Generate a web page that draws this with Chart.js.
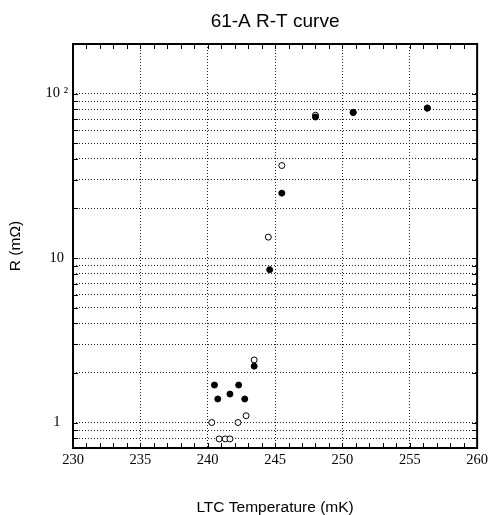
<!DOCTYPE html>
<html>
<head>
<meta charset="utf-8">
<script src="https://cdn.jsdelivr.net/npm/chart.js@4/dist/chart.umd.min.js"></script>
<style>
  html, body { margin: 0; padding: 0; background: #fff; }
  #wrap { width: 491px; height: 515px; }
</style>
</head>
<body>
<div id="wrap"><canvas id="c" width="491" height="515"></canvas></div>
<script>
// ---- data ----
const chartTitle = '61-A R-T curve';
const xTitle = 'LTC Temperature (mK)';
const yTitle = 'R (m\u03A9)';

const filledT = [240.5, 240.75, 241.65, 242.3, 242.75, 243.45, 244.6, 245.5, 248.0, 250.8, 256.3];
const filledR = [1.69, 1.39, 1.49, 1.69, 1.39, 2.2, 8.5, 24.8, 72.0, 76.6, 81.4];

const openT = [240.3, 240.85, 241.3, 241.65, 242.25, 242.85, 243.45, 244.5, 245.5, 248.0, 250.8, 256.3];
const openR = [1.0, 0.795, 0.795, 0.795, 1.0, 1.1, 2.4, 13.4, 36.5, 73.8, 76.9, 81.7];

const xMin = 230, xMax = 260, xStep = 5, xMinorStep = 1;
const yMin = 0.7, yMax = 200;
const yGridValues = [0.8, 0.9, 1, 2, 3, 4, 5, 6, 7, 8, 9, 10, 20, 30, 40, 50, 60, 70, 80, 90, 100];
const yTickLabels = { 1: '1', 10: '10', 100: '10 \u00B2' };

const toPoints = (xs, ys) => xs.map((x, i) => ({ x: x, y: ys[i] }));

const frameAndTicks = {
  id: 'frameAndTicks',
  afterDraw(chart) {
    const { ctx, chartArea: a, scales } = chart;
    const xs = scales.x, ys = scales.y;
    ctx.save();
    ctx.strokeStyle = '#000';
    ctx.lineWidth = 1;
    ctx.beginPath();
    const L = 5;
    for (let v = xMin; v <= xMax + 1e-9; v += xMinorStep) {
      const px = Math.round(xs.getPixelForValue(v)) + 0.5;
      ctx.moveTo(px, a.bottom); ctx.lineTo(px, a.bottom - L);
      ctx.moveTo(px, a.top); ctx.lineTo(px, a.top + L);
    }
    yGridValues.forEach(v => {
      const py = Math.round(ys.getPixelForValue(v)) + 0.5;
      ctx.moveTo(a.left, py); ctx.lineTo(a.left + L, py);
      ctx.moveTo(a.right, py); ctx.lineTo(a.right - L, py);
    });
    ctx.stroke();
    ctx.lineWidth = 2;
    ctx.strokeRect(a.left, a.top, a.right - a.left, a.bottom - a.top);
    ctx.restore();
  }
};

new Chart(document.getElementById('c'), {
  type: 'scatter',
  data: {
    datasets: [
      {
        label: 'filled',
        data: toPoints(filledT, filledR),
        pointStyle: 'circle',
        pointRadius: 3,
        pointBackgroundColor: '#000',
        pointBorderColor: '#000',
        pointBorderWidth: 1
      },
      {
        label: 'open',
        data: toPoints(openT, openR),
        pointStyle: 'circle',
        pointRadius: 3,
        pointBackgroundColor: '#fff',
        pointBorderColor: '#000',
        pointBorderWidth: 1
      }
    ]
  },
  options: {
    responsive: false,
    animation: false,
    events: [],
    layout: { padding: { left: 0, right: 12, top: 0, bottom: 0 } },
    plugins: {
      legend: { display: false },
      tooltip: { enabled: false },
      title: {
        display: true,
        text: chartTitle,
        fullSize: false,
        color: '#000',
        font: { family: 'Liberation Sans', size: 19, weight: 'normal', lineHeight: 1 },
        padding: { top: 12, bottom: 13 }
      }
    },
    scales: {
      x: {
        type: 'linear',
        min: xMin, max: xMax,
        afterFit(s) { s.height = 67; },
        ticks: {
          stepSize: xStep,
          color: '#000',
          padding: 3,
          maxRotation: 0,
          font: { family: 'Liberation Serif', size: 14.5, lineHeight: 1.2 }
        },
        grid: { color: '#222', lineWidth: 1, drawTicks: false },
        border: { display: false, dash: [1, 2] },
        title: {
          display: true, text: xTitle, color: '#000',
          font: { family: 'Liberation Sans', size: 15.5, lineHeight: 1 },
          padding: { top: 0, bottom: 0 }
        }
      },
      y: {
        type: 'logarithmic',
        min: yMin, max: yMax,
        afterFit(s) { s.width = 73; },
        afterBuildTicks(s) { s.ticks = yGridValues.map(v => ({ value: v })); },
        ticks: {
          autoSkip: false,
          color: '#000',
          crossAlign: 'center',
          padding: 5,
          font: { family: 'Liberation Serif', size: 14.5 },
          callback: (v) => (yTickLabels[v] !== undefined ? yTickLabels[v] : '')
        },
        grid: { color: '#222', lineWidth: 1, drawTicks: false },
        border: { display: false, dash: [1, 2] },
        title: {
          display: true, text: yTitle, color: '#000',
          font: { family: 'Liberation Sans', size: 15.5, lineHeight: 1 },
          padding: { top: 8, bottom: 0 }
        }
      }
    }
  },
  plugins: [frameAndTicks]
});
</script>
</body>
</html>
